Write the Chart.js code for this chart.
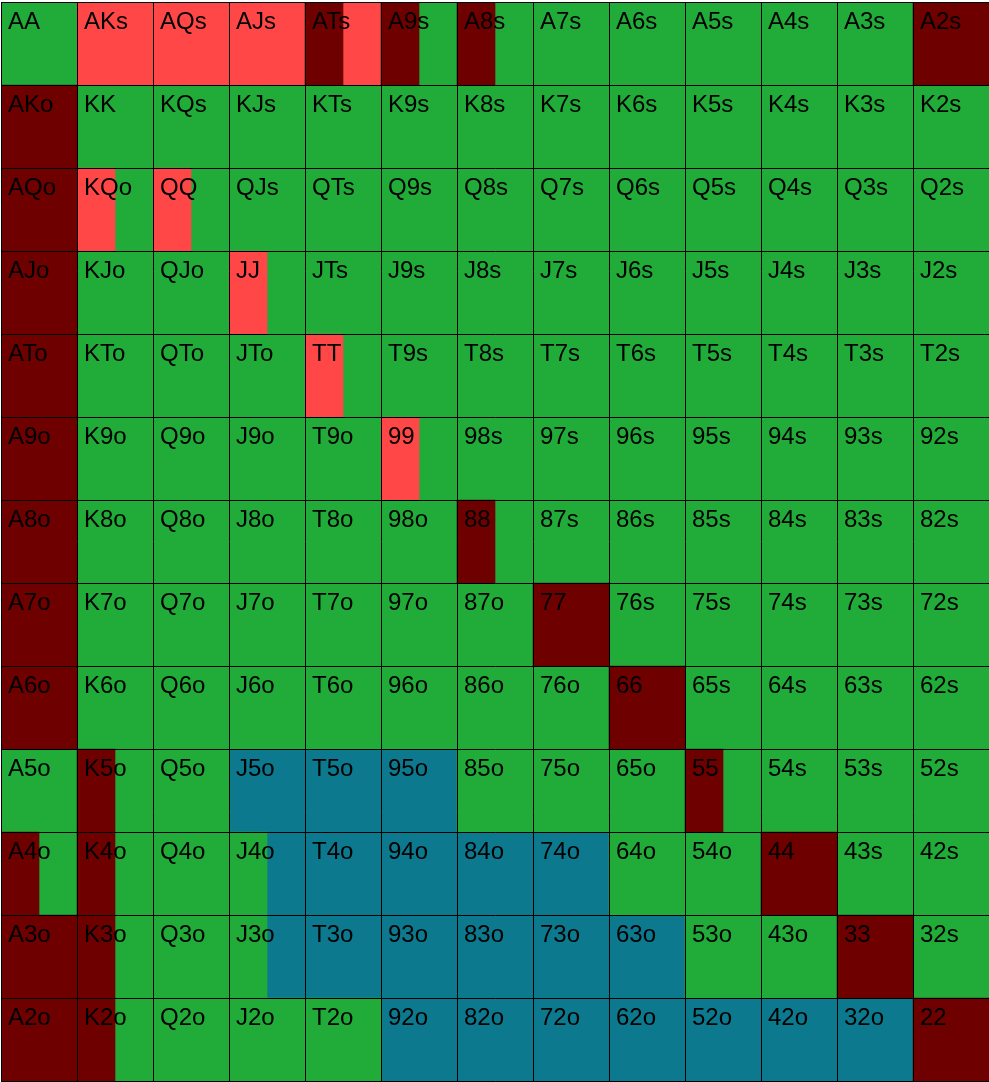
<!DOCTYPE html>
<html>
<head>
<meta charset="utf-8">
<script src="https://cdn.jsdelivr.net/npm/chart.js@4.4.0/dist/chart.umd.min.js"></script>
<style>
html,body{margin:0;padding:0;background:#fff;}
canvas{display:block;}
</style>
</head>
<body>
<canvas id="c" width="989" height="1082"></canvas>
<script>
const ranks = ['A','K','Q','J','T','9','8','7','6','5','4','3','2'];

// Fractions of each cell (row = first rank index, col = second rank index), drawn left to right in this order
const darkRed = [
  [0,0,0,0,.5,.5,.5,0,0,0,0,0,1],
  [1,0,0,0,0,0,0,0,0,0,0,0,0],
  [1,0,0,0,0,0,0,0,0,0,0,0,0],
  [1,0,0,0,0,0,0,0,0,0,0,0,0],
  [1,0,0,0,0,0,0,0,0,0,0,0,0],
  [1,0,0,0,0,0,0,0,0,0,0,0,0],
  [1,0,0,0,0,0,.5,0,0,0,0,0,0],
  [1,0,0,0,0,0,0,1,0,0,0,0,0],
  [1,0,0,0,0,0,0,0,1,0,0,0,0],
  [0,.5,0,0,0,0,0,0,0,.5,0,0,0],
  [.5,.5,0,0,0,0,0,0,0,0,1,0,0],
  [1,.5,0,0,0,0,0,0,0,0,0,1,0],
  [1,.5,0,0,0,0,0,0,0,0,0,0,1]
];
const lightRed = [
  [0,1,1,1,.5,0,0,0,0,0,0,0,0],
  [0,0,0,0,0,0,0,0,0,0,0,0,0],
  [0,.5,.5,0,0,0,0,0,0,0,0,0,0],
  [0,0,0,.5,0,0,0,0,0,0,0,0,0],
  [0,0,0,0,.5,0,0,0,0,0,0,0,0],
  [0,0,0,0,0,.5,0,0,0,0,0,0,0],
  [0,0,0,0,0,0,0,0,0,0,0,0,0],
  [0,0,0,0,0,0,0,0,0,0,0,0,0],
  [0,0,0,0,0,0,0,0,0,0,0,0,0],
  [0,0,0,0,0,0,0,0,0,0,0,0,0],
  [0,0,0,0,0,0,0,0,0,0,0,0,0],
  [0,0,0,0,0,0,0,0,0,0,0,0,0],
  [0,0,0,0,0,0,0,0,0,0,0,0,0]
];
const green = [
  [1,0,0,0,0,.5,.5,1,1,1,1,1,0],
  [0,1,1,1,1,1,1,1,1,1,1,1,1],
  [0,.5,.5,1,1,1,1,1,1,1,1,1,1],
  [0,1,1,.5,1,1,1,1,1,1,1,1,1],
  [0,1,1,1,.5,1,1,1,1,1,1,1,1],
  [0,1,1,1,1,.5,1,1,1,1,1,1,1],
  [0,1,1,1,1,1,.5,1,1,1,1,1,1],
  [0,1,1,1,1,1,1,0,1,1,1,1,1],
  [0,1,1,1,1,1,1,1,0,1,1,1,1],
  [1,.5,1,0,0,0,1,1,1,.5,1,1,1],
  [.5,.5,1,.5,0,0,0,0,1,1,0,1,1],
  [0,.5,1,.5,0,0,0,0,0,1,1,0,1],
  [0,.5,1,1,1,0,0,0,0,0,0,0,0]
];
const blue = [
  [0,0,0,0,0,0,0,0,0,0,0,0,0],
  [0,0,0,0,0,0,0,0,0,0,0,0,0],
  [0,0,0,0,0,0,0,0,0,0,0,0,0],
  [0,0,0,0,0,0,0,0,0,0,0,0,0],
  [0,0,0,0,0,0,0,0,0,0,0,0,0],
  [0,0,0,0,0,0,0,0,0,0,0,0,0],
  [0,0,0,0,0,0,0,0,0,0,0,0,0],
  [0,0,0,0,0,0,0,0,0,0,0,0,0],
  [0,0,0,0,0,0,0,0,0,0,0,0,0],
  [0,0,0,1,1,1,0,0,0,0,0,0,0],
  [0,0,0,.5,1,1,1,1,0,0,0,0,0],
  [0,0,0,.5,1,1,1,1,1,0,0,0,0],
  [0,0,0,0,0,1,1,1,1,1,1,1,0]
];

const layers = [
  {name:'darkRed', grid: darkRed, color:'#6e0000'},
  {name:'lightRed', grid: lightRed, color:'#ff4747'},
  {name:'green', grid: green, color:'#21ab38'},
  {name:'blue', grid: blue, color:'#0d798e'}
];

function handLabel(r, c) {
  if (r === c) return ranks[r] + ranks[c];
  if (c > r) return ranks[r] + ranks[c] + 's';
  return ranks[c] + ranks[r] + 'o';
}

// Build floating-bar segments from the fractions
const datasets = layers.map(l => ({label: l.name, data: [], backgroundColor: l.color, borderWidth: 0, grouped: false, barPercentage: 1, categoryPercentage: 1}));
for (let r = 0; r < 13; r++) {
  for (let c = 0; c < 13; c++) {
    let start = c;
    layers.forEach((l, i) => {
      const f = l.grid[r][c];
      if (f > 0) {
        datasets[i].data.push({y: ranks[r], x: [start, start + f]});
        start += f;
      }
    });
  }
}

const labelPlugin = {
  id: 'handLabels',
  afterDraw(chart) {
    const xs = chart.scales.x, ys = chart.scales.y;
    const ctx = chart.ctx;
    const half = (ys.getPixelForValue(1) - ys.getPixelForValue(0)) / 2;
    ctx.save();
    ctx.font = '24px "Liberation Sans", Arial, sans-serif';
    ctx.fillStyle = '#000';
    ctx.textBaseline = 'alphabetic';
    ctx.textAlign = 'left';
    for (let r = 0; r < 13; r++) {
      const top = ys.getPixelForValue(r) - half;
      for (let c = 0; c < 13; c++) {
        const left = xs.getPixelForValue(c);
        ctx.fillText(handLabel(r, c), left + 7, top + 26.5);
      }
    }
    ctx.restore();
  }
};

new Chart(document.getElementById('c'), {
  type: 'bar',
  data: {labels: ranks, datasets},
  options: {
    indexAxis: 'y',
    responsive: false,
    animation: false,
    layout: {padding: {left: 1, top: 2, right: 0, bottom: 1}},
    plugins: {legend: {display: false}, tooltip: {enabled: false}},
    scales: {
      x: {
        type: 'linear', min: 0, max: 13,
        ticks: {display: false, stepSize: 1},
        grid: {color: '#000', lineWidth: 1, drawTicks: false, tickLength: 0, z: 1},
        border: {display: true, color: '#000', width: 1, z: 1}
      },
      y: {
        type: 'category',
        ticks: {display: false},
        grid: {color: '#000', lineWidth: 1, drawTicks: false, tickLength: 0, offset: true, z: 1},
        border: {display: true, color: '#000', width: 1, z: 1}
      }
    }
  },
  plugins: [labelPlugin]
});
</script>
</body>
</html>
